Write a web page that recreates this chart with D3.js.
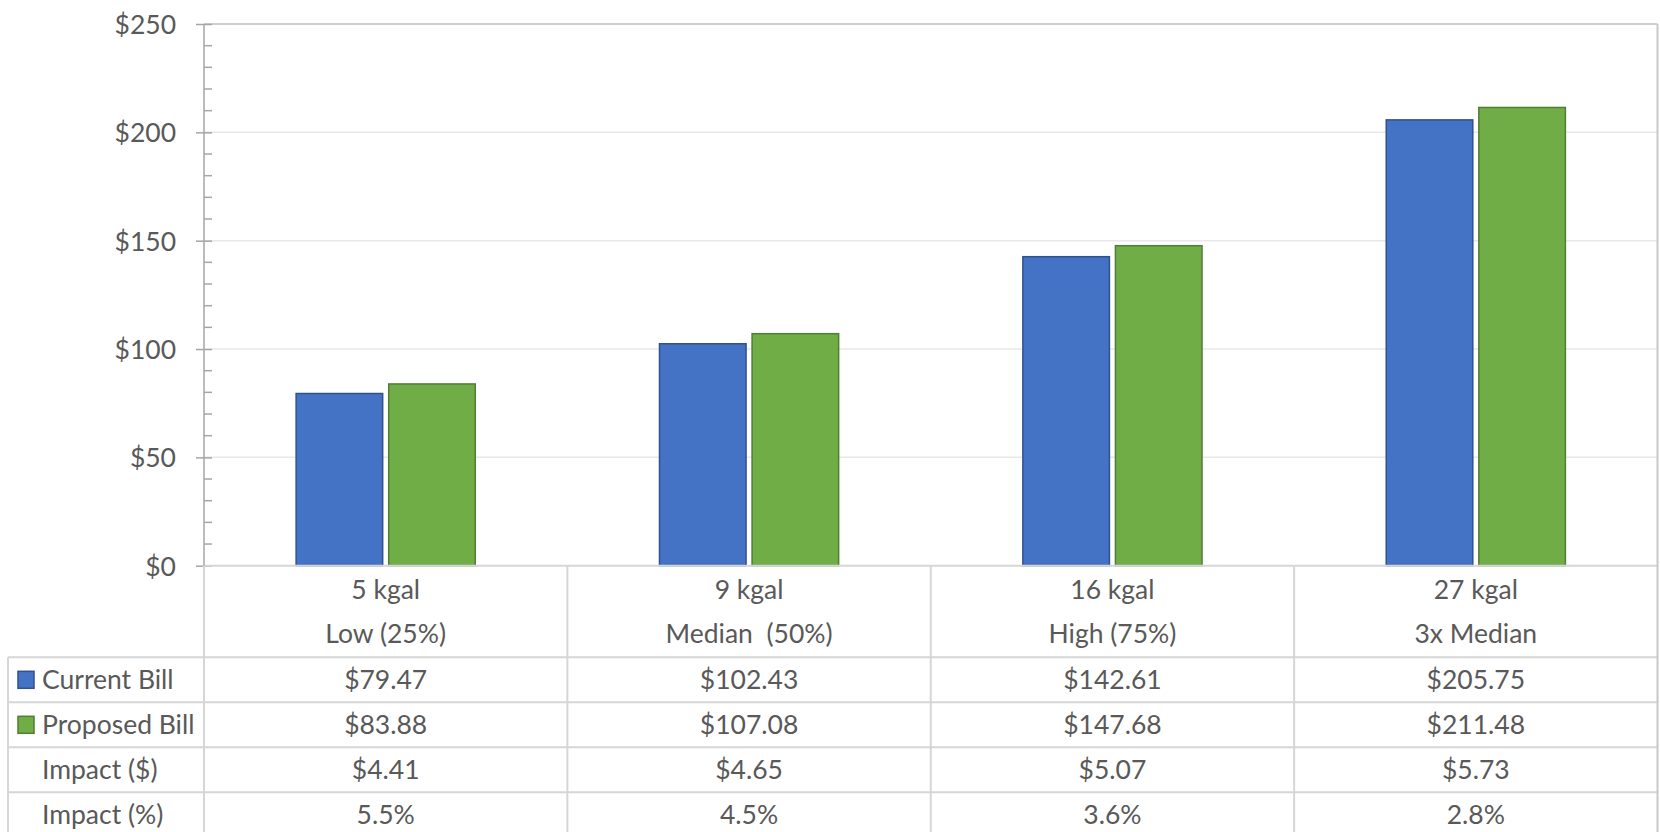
<!DOCTYPE html>
<html>
<head>
<meta charset="utf-8">
<script src="https://cdn.jsdelivr.net/npm/d3@7"></script>
<style>
  html, body { margin: 0; padding: 0; background: #fff; }
  svg text { font-family: Lato, "Open Sans", sans-serif; fill: #595959; }
</style>
</head>
<body>
<svg id="chart" width="1660" height="832"></svg>
<script>
// ---- data ----
const categoryUsage = ["5 kgal", "9 kgal", "16 kgal", "27 kgal"];
const categoryTier = ["Low (25%)", "Median  (50%)", "High (75%)", "3x Median"];
const seriesNames = ["Current Bill", "Proposed Bill"];
const currentBill = [79.47, 102.43, 142.61, 205.75];
const proposedBill = [83.88, 107.08, 147.68, 211.48];
const impactDollars = [4.41, 4.65, 5.07, 5.73];
const impactPercent = [5.5, 4.5, 3.6, 2.8];
const yTicks = [0, 50, 100, 150, 200, 250];

// ---- layout ----
const plotLeft = 204, plotRight = 1657.5, plotTop = 24, plotBottom = 565.7;
const tableLeft = 8, headerBottom = 657.3, rowH = 45;
const fills = ["#4472C4", "#70AD47"];
const strokes = ["#2F528F", "#507E32"];
const fontSize = 26.5;

const svg = d3.select("#chart");

const x = d3.scaleBand().domain(d3.range(categoryUsage.length)).range([plotLeft, plotRight]).padding(0);
const y = d3.scaleLinear().domain([0, 250]).range([plotBottom, plotTop]);
const groupW = x.bandwidth() * 0.493;
const xs = d3.scaleBand().domain([0, 1]).range([-groupW / 2, groupW / 2]).paddingInner(0.065);

// gridlines
svg.append("g").selectAll("line").data(yTicks.filter(d => d > 0 && d < 250)).join("line")
  .attr("x1", plotLeft).attr("x2", plotRight)
  .attr("y1", d => y(d)).attr("y2", d => y(d))
  .attr("stroke", "#e8e8e8").attr("stroke-width", 1.5);

// plot border top
svg.append("line").attr("x1", plotLeft).attr("x2", plotRight).attr("y1", plotTop).attr("y2", plotTop)
  .attr("stroke", "#bfbfbf").attr("stroke-width", 1.5);

// bars
const seriesVals = [currentBill, proposedBill];
seriesVals.forEach((vals, s) => {
  svg.append("g").selectAll("rect").data(vals).join("rect")
    .attr("x", (d, i) => x(i) + x.bandwidth() / 2 + xs(s))
    .attr("width", xs.bandwidth())
    .attr("y", d => y(d))
    .attr("height", d => y(0) - y(d))
    .attr("fill", fills[s])
    .attr("stroke", strokes[s]).attr("stroke-width", 1.5);
});

// y axis
const yAxis = d3.axisLeft(y).tickValues(yTicks).tickFormat(d => "$" + d).tickSize(8).tickPadding(20);
const yg = svg.append("g").attr("transform", `translate(${plotLeft},0)`).call(yAxis);
yg.select(".domain").remove();
yg.selectAll(".tick line").attr("stroke", "#a6a6a6").attr("stroke-width", 1.5).attr("x2", 8).attr("x1", -8);
yg.selectAll(".tick text").attr("font-size", fontSize).attr("dy", "0.36em")
  .style("font-family", "Lato, sans-serif").attr("fill", "#595959");
// minor ticks
svg.append("g").selectAll("line").data(d3.range(0, 251, 10).filter(d => d % 50 !== 0)).join("line")
  .attr("x1", plotLeft).attr("x2", plotLeft + 8)
  .attr("y1", d => y(d)).attr("y2", d => y(d))
  .attr("stroke", "#a6a6a6").attr("stroke-width", 1.5);

// ---- data table ----
const rowLabels = seriesNames.concat(["Impact ($)", "Impact (%)"]);
const rowVals = [
  currentBill.map(d => "$" + d3.format(".2f")(d)),
  proposedBill.map(d => "$" + d3.format(".2f")(d)),
  impactDollars.map(d => "$" + d3.format(".2f")(d)),
  impactPercent.map(d => d3.format(".1f")(d) + "%")
];
const rowTop = i => headerBottom + i * rowH;
const tableBottom = rowTop(rowLabels.length);
const tableStroke = "#d6d6d6";

const tg = svg.append("g");
tg.selectAll("line.h").data(d3.range(rowLabels.length + 1)).join("line")
  .attr("x1", tableLeft).attr("x2", plotRight)
  .attr("y1", d => rowTop(d)).attr("y2", d => rowTop(d))
  .attr("stroke", tableStroke).attr("stroke-width", 2);
tg.append("line").attr("x1", plotLeft).attr("x2", plotRight).attr("y1", plotBottom).attr("y2", plotBottom)
  .attr("stroke", tableStroke).attr("stroke-width", 2);
const edges = d3.range(categoryUsage.length).map(i => x(i)).concat([plotRight]);
tg.selectAll("line.v").data(edges.slice(1, -1)).join("line")
  .attr("x1", d => d).attr("x2", d => d).attr("y1", plotBottom).attr("y2", tableBottom)
  .attr("stroke", tableStroke).attr("stroke-width", 2);
tg.append("line").attr("x1", tableLeft).attr("x2", tableLeft).attr("y1", headerBottom).attr("y2", tableBottom)
  .attr("stroke", tableStroke).attr("stroke-width", 2);

svg.append("line").attr("x1", plotLeft).attr("x2", plotLeft).attr("y1", plotTop).attr("y2", plotBottom)
  .attr("stroke", "#a6a6a6").attr("stroke-width", 1.5);
svg.append("line").attr("x1", plotLeft).attr("x2", plotLeft).attr("y1", plotBottom).attr("y2", tableBottom)
  .attr("stroke", tableStroke).attr("stroke-width", 2);
svg.append("line").attr("x1", plotRight).attr("x2", plotRight).attr("y1", plotTop).attr("y2", tableBottom)
  .attr("stroke", "#c8c8c8").attr("stroke-width", 2);

// header labels
const cx = i => x(i) + x.bandwidth() / 2;
tg.selectAll("text.cat1").data(categoryUsage).join("text")
  .attr("x", (d, i) => cx(i)).attr("y", 598.8).attr("text-anchor", "middle")
  .attr("font-size", fontSize).text(d => d);
tg.selectAll("text.cat2").data(categoryTier).join("text")
  .attr("x", (d, i) => cx(i)).attr("y", 643.3).attr("text-anchor", "middle")
  .attr("font-size", fontSize).style("white-space", "pre").text(d => d);

// row labels and values
rowLabels.forEach((lab, r) => {
  const base = rowTop(r) + rowH / 2 + 9;
  if (r < 2) {
    tg.append("rect").attr("x", 18).attr("y", rowTop(r) + rowH / 2 - 8.5)
      .attr("width", 16).attr("height", 17)
      .attr("fill", fills[r]).attr("stroke", strokes[r]).attr("stroke-width", 1.5);
  }
  tg.append("text").attr("x", 42).attr("y", base).attr("font-size", fontSize).text(lab);
  tg.selectAll(null).data(rowVals[r]).join("text")
    .attr("x", (d, i) => cx(i)).attr("y", base).attr("text-anchor", "middle")
    .attr("font-size", fontSize).text(d => d);
});
</script>
</body>
</html>
